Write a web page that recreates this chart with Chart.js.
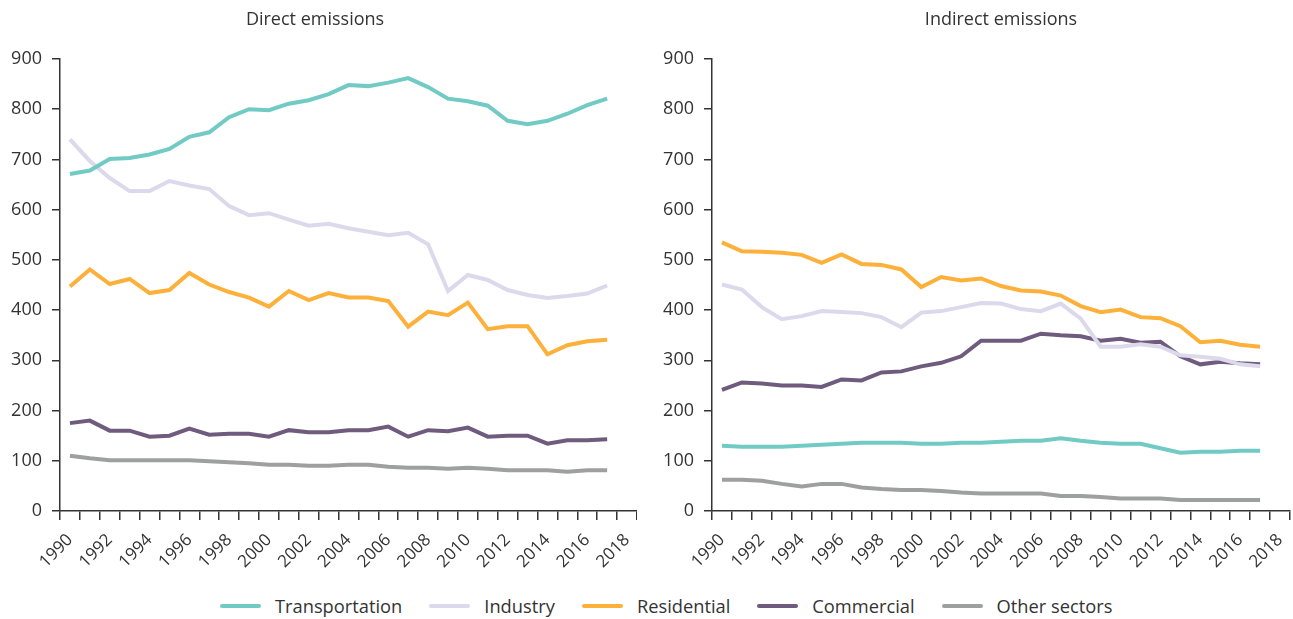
<!DOCTYPE html>
<html>
<head>
<meta charset="utf-8">
<script src="https://cdn.jsdelivr.net/npm/chart.js@4"></script>
<style>
  body { margin: 0; background: #fff; font-family: "Open Sans", sans-serif; }
  #wrap { position: relative; width: 1293px; height: 619px; overflow: hidden; }
  #left { position: absolute; left: -7px; top: 0; }
  #right { position: absolute; left: 650px; top: 0; }
  #legend { position: absolute; left: 220px; top: 593px; display: flex; align-items: center; color: #333; font-size: 18.3px; }
  .item { display: flex; align-items: center; margin-right: 27px; }
  .swatch { width: 41px; height: 4px; border-radius: 2px; margin-right: 14px; }
</style>
</head>
<body>
<div id="wrap">
  <canvas id="left" width="644" height="578"></canvas>
  <canvas id="right" width="643" height="578"></canvas>
  <div id="legend"></div>
</div>
<script>
const years = ['1990','1991','1992','1993','1994','1995','1996','1997','1998','1999','2000','2001','2002','2003','2004','2005','2006','2007','2008','2009','2010','2011','2012','2013','2014','2015','2016','2017','2018'];

const seriesNames = ['Transportation', 'Industry', 'Residential', 'Commercial', 'Other sectors'];
const seriesColors = ['#71cbc4', '#dcd9ec', '#fdb03a', '#6f5b7d', '#9ca09e'];

// direct emissions
const directTransportation = [671,678,701,703,710,721,745,754,784,800,798,811,818,830,848,846,853,862,844,821,816,807,777,770,777,791,808,821];
const directIndustry = [740,697,663,637,637,657,648,641,607,589,593,580,568,572,563,556,549,554,531,438,470,460,440,430,424,428,433,449];
const directResidential = [447,481,452,462,434,440,474,451,436,425,407,438,420,434,425,425,418,367,397,390,415,362,368,368,312,330,338,341];
const directCommercial = [175,180,160,160,148,150,164,152,154,154,148,161,157,157,161,161,168,148,161,159,166,148,150,150,134,141,141,143];
const directOther = [110,105,101,101,101,101,101,99,97,95,92,92,90,90,92,92,88,86,86,84,86,84,81,81,81,78,81,81];

// indirect emissions
const indirectTransportation = [130,128,128,128,130,132,134,136,136,136,134,134,136,136,138,140,140,145,140,136,134,134,125,116,118,118,120,120];
const indirectIndustry = [451,441,406,382,388,398,396,394,386,366,395,398,406,414,413,402,398,413,383,327,327,332,327,310,307,303,292,288];
const indirectResidential = [535,517,516,514,510,494,511,492,490,481,446,466,459,463,448,439,437,429,408,396,401,386,384,368,336,339,331,327];
const indirectCommercial = [241,256,254,250,250,247,262,260,276,278,288,295,308,339,339,339,353,350,348,339,343,335,337,308,292,297,294,292];
const indirectOther = [62,62,60,54,49,54,54,47,44,42,42,40,37,35,35,35,35,30,30,28,25,25,25,22,22,22,22,22];

const directData = [directTransportation, directIndustry, directResidential, directCommercial, directOther];
const indirectData = [indirectTransportation, indirectIndustry, indirectResidential, indirectCommercial, indirectOther];

const textColor = '#333333';
Chart.defaults.font.family = '"Open Sans", sans-serif';
Chart.defaults.color = textColor;

function makeChart(id, title, data, yWidth, padRight, fullTitle) {
  return new Chart(document.getElementById(id), {
    type: 'line',
    data: {
      labels: years,
      datasets: data.map((values, i) => ({
        label: seriesNames[i],
        data: values,
        borderColor: seriesColors[i],
        backgroundColor: seriesColors[i],
        borderWidth: 4,
        pointRadius: 0,
        fill: false,
        tension: 0
      }))
    },
    options: {
      responsive: false,
      animation: false,
      layout: { padding: { left: 0, right: padRight, top: 0, bottom: 0 } },
      plugins: {
        legend: { display: false },
        tooltip: { enabled: false },
        title: {
          display: true,
          text: title,
          fullSize: fullTitle,
          color: textColor,
          font: { size: 18, weight: 'normal' },
          padding: { top: 9, bottom: 28.4 }
        }
      },
      scales: {
        x: {
          offset: true,
          grid: { display: true, drawOnChartArea: false, offset: true, tickLength: 9, color: textColor, lineWidth: 1.5 },
          border: { color: textColor, width: 1.5 },
          ticks: {
            autoSkip: false,
            minRotation: 45,
            maxRotation: 45,
            padding: 10,
            font: { size: 17 },
            callback: function (value, index) { return index % 2 === 0 ? years[index] : ''; }
          },
          afterFit: function (scale) {
            scale.height = 67;
            scale.paddingRight = 0;
            scale.paddingLeft = 0;
          }
        },
        y: {
          min: 0,
          max: 900,
          grid: { display: true, drawOnChartArea: false, tickLength: 8, color: textColor, lineWidth: 1.5 },
          border: { color: textColor, width: 1.5 },
          ticks: { stepSize: 100, padding: 10, font: { size: 18 } },
          afterFit: function (scale) { scale.width = yWidth; }
        }
      }
    }
  });
}

makeChart('left', 'Direct emissions', directData, 67, 0, true);
makeChart('right', 'Indirect emissions', indirectData, 62, 3, false);

const legend = document.getElementById('legend');
seriesNames.forEach((name, i) => {
  const item = document.createElement('div');
  item.className = 'item';
  const sw = document.createElement('span');
  sw.className = 'swatch';
  sw.style.background = seriesColors[i];
  const txt = document.createElement('span');
  txt.textContent = name;
  item.appendChild(sw);
  item.appendChild(txt);
  legend.appendChild(item);
});
</script>
</body>
</html>
